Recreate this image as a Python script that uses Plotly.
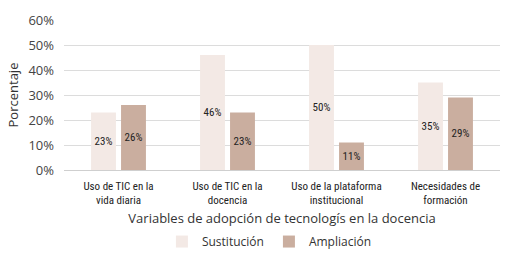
import plotly.graph_objects as go

categories = ["Uso de TIC en la<br>vida diaria", "Uso de TIC en la<br>docencia",
              "Uso de la plataforma<br>institucional", "Necesidades de<br>formación"]
sustitucion = [23, 46, 50, 35]
ampliacion = [26, 23, 11, 29]
series_names = ["Sustitución", "Ampliación"]
colors = ["#F3E9E5", "#CAAE9F"]

narrow = "Liberation Sans Narrow, Arial Narrow, Roboto Condensed, sans-serif"
main = "Open Sans, Noto Sans, sans-serif"

fig = go.Figure()
for name, vals, col in zip(series_names, [sustitucion, ampliacion], colors):
    fig.add_trace(go.Bar(
        x=categories, y=vals, name=name, marker=dict(color=col, line=dict(width=0)),
        text=[f"{v}%" for v in vals], textposition="inside", insidetextanchor="middle",
        textfont=dict(family=narrow, size=11, color="#222"),
        constraintext="none", hoverinfo="skip",
    ))

fig.update_layout(
    width=510, height=264,
    margin=dict(l=64, r=10, t=20, b=94, autoexpand=False),
    barmode="group", bargap=0.45, bargroupgap=0.17,
    plot_bgcolor="white", paper_bgcolor="white",
    font=dict(family=main, color="#333"),
    uniformtext=dict(minsize=8, mode="show"),
    xaxis=dict(
        title=dict(text="Variables de adopción de tecnologís en la docencia",
                   font=dict(family=main, size=13, color="#333"), standoff=17),
        tickfont=dict(family=narrow, size=11, color="#222"),
        ticklabelstandoff=8,
        showline=False, ticks="", showgrid=False, automargin=False,
    ),
    yaxis=dict(
        title=dict(text="Porcentaje", font=dict(family=main, size=13, color="#333"), standoff=6),
        range=[0, 60], dtick=10, ticksuffix="%",
        tickfont=dict(family=main, size=13, color="#444"),
        ticklabelstandoff=9,
        showgrid=True, gridcolor="#DCDCDC", gridwidth=1,
        zeroline=True, zerolinecolor="#CFCFCF", zerolinewidth=1,
        ticks="", showline=False, automargin=False,
    ),
    legend=dict(orientation="h", x=0.47, xanchor="center",
                yref="container", y=0.14, yanchor="top",
                font=dict(family=main, size=12, color="#333"),
                itemwidth=30, entrywidth=62, entrywidthmode="pixels",
                traceorder="normal"),
)

fig.write_html("out.html", post_script="document.body.style.margin='0';",
               config={"displayModeBar": False})
